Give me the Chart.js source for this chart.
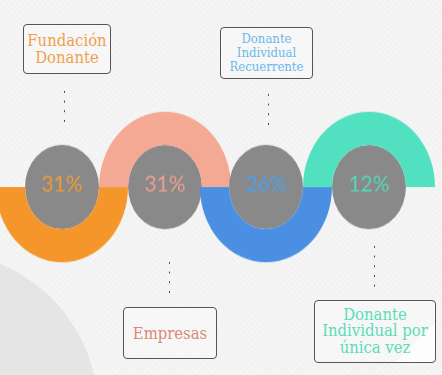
<!DOCTYPE html>
<html>
<head>
<meta charset="utf-8">
<script src="https://cdn.jsdelivr.net/npm/chart.js@4.4.0/dist/chart.umd.min.js"></script>
<style>
  html, body { margin: 0; padding: 0; }
  body {
    width: 442px; height: 375px; overflow: hidden; position: relative;
    background-color: #f2f2f2;
    background-image:
      repeating-linear-gradient(45deg, rgba(255,255,255,0.25) 0 1px, transparent 1px 4px),
      repeating-linear-gradient(-45deg, rgba(255,255,255,0.25) 0 1px, transparent 1px 4px);
  }
  .blob { position: absolute; left: -218px; top: 252px; width: 316px; height: 316px; border-radius: 50%; background: #e5e5e5; }
  .arc { position: absolute; width: 132px; height: 132px; transform: scaleY(1.14); }
  .arc canvas { display: block; }
  .box {
    position: absolute; box-sizing: border-box;
    border: 1.5px solid #555; border-radius: 4px;
    background: rgba(255,255,255,0.3);
    display: flex; align-items: center; justify-content: center; text-align: center;
    font-family: 'DejaVu Serif Condensed', 'DejaVu Serif', serif; font-stretch: condensed;
    padding: 0 3px;
  }
  .dots {
    position: absolute; width: 3px;
    background-image: radial-gradient(circle, #444 0.8px, transparent 1.1px);
    background-size: 3px 9.7px;
  }
</style>
</head>
<body>
<div class="blob"></div>
<div id="stage"></div>
<script>
// data
const categories = ['Fundación Donante', 'Empresas', 'Donante Individual Recuerrente', 'Donante Individual por única vez'];
const shares = [31, 31, 26, 12];

// styles
const arcColors = ['#f5962b', '#f4a995', '#4a8fe2', '#52e1c0'];
const textColors = ['#f09a38', '#eda08c', '#4fa0ea', '#55d8b6'];
const labelColors = ['#f0a04c', '#d98a76', '#6cb8ec', '#5cdcb9'];
const centersX = [62, 165, 266, 369];
const centerY = 187;
const stretch = 1.14;

const boxes = [
  { left: 23, top: 24, w: 88, h: 50, size: 16.5, lh: 17 },
  { left: 123, top: 307, w: 94, h: 52, size: 16.5, lh: 17 },
  { left: 220, top: 27, w: 93, h: 52, size: 13, lh: 14 },
  { left: 314, top: 300, w: 122, h: 63, size: 16.5, lh: 16.5 }
];
const dotLines = [
  { x: 64, y1: 87, y2: 126 },
  { x: 169, y1: 258, y2: 297 },
  { x: 268, y1: 90, y2: 130 },
  { x: 374, y1: 242, y2: 290 }
];

const stage = document.getElementById('stage');

const centerText = {
  id: 'centerText',
  afterDatasetsDraw(chart, args, opts) {
    const arc = chart.getDatasetMeta(0).data[0];
    const ctx = chart.ctx;
    ctx.save();
    ctx.translate(arc.x, arc.y);
    ctx.scale(1, 1 / stretch);
    ctx.fillStyle = opts.color;
    ctx.font = '400 21px Lato';
    ctx.textAlign = 'center';
    ctx.textBaseline = 'middle';
    ctx.fillText(chart.data.datasets[0].data[0] + '%', 0, -2);
    ctx.restore();
  }
};

categories.forEach((cat, i) => {
  const wrap = document.createElement('div');
  wrap.className = 'arc';
  wrap.style.left = (centersX[i] - 66) + 'px';
  wrap.style.top = (centerY - 66) + 'px';
  const canvas = document.createElement('canvas');
  canvas.width = 132;
  canvas.height = 132;
  wrap.appendChild(canvas);
  stage.appendChild(wrap);

  new Chart(canvas, {
    type: 'doughnut',
    data: {
      labels: [cat],
      datasets: [
        {
          data: [shares[i]],
          backgroundColor: arcColors[i],
          circumference: 180,
          rotation: i % 2 === 0 ? 90 : -90,
          weight: 0.44,
          borderWidth: 0
        },
        {
          data: [shares[i]],
          backgroundColor: '#898989',
          weight: 0.56,
          borderWidth: 0
        }
      ]
    },
    options: {
      responsive: false,
      animation: false,
      cutout: 0,
      hoverOffset: 0,
      events: [],
      plugins: {
        legend: { display: false },
        tooltip: { enabled: false },
        centerText: { color: textColors[i] }
      }
    },
    plugins: [centerText]
  });

  const b = boxes[i];
  const box = document.createElement('div');
  box.className = 'box';
  Object.assign(box.style, {
    left: b.left + 'px', top: b.top + 'px', width: b.w + 'px', height: b.h + 'px',
    fontSize: b.size + 'px', lineHeight: b.lh + 'px', color: labelColors[i]
  });
  if (i === 3) {
    box.style.background = 'linear-gradient(135deg, rgba(255,255,255,0.3) 78%, rgba(255,255,255,0.85) 78%)';
  }
  box.textContent = cat;
  stage.appendChild(box);

  const d = dotLines[i];
  const dots = document.createElement('div');
  dots.className = 'dots';
  Object.assign(dots.style, { left: (d.x - 1) + 'px', top: d.y1 + 'px', height: (d.y2 - d.y1) + 'px' });
  stage.appendChild(dots);
});
</script>
</body>
</html>
